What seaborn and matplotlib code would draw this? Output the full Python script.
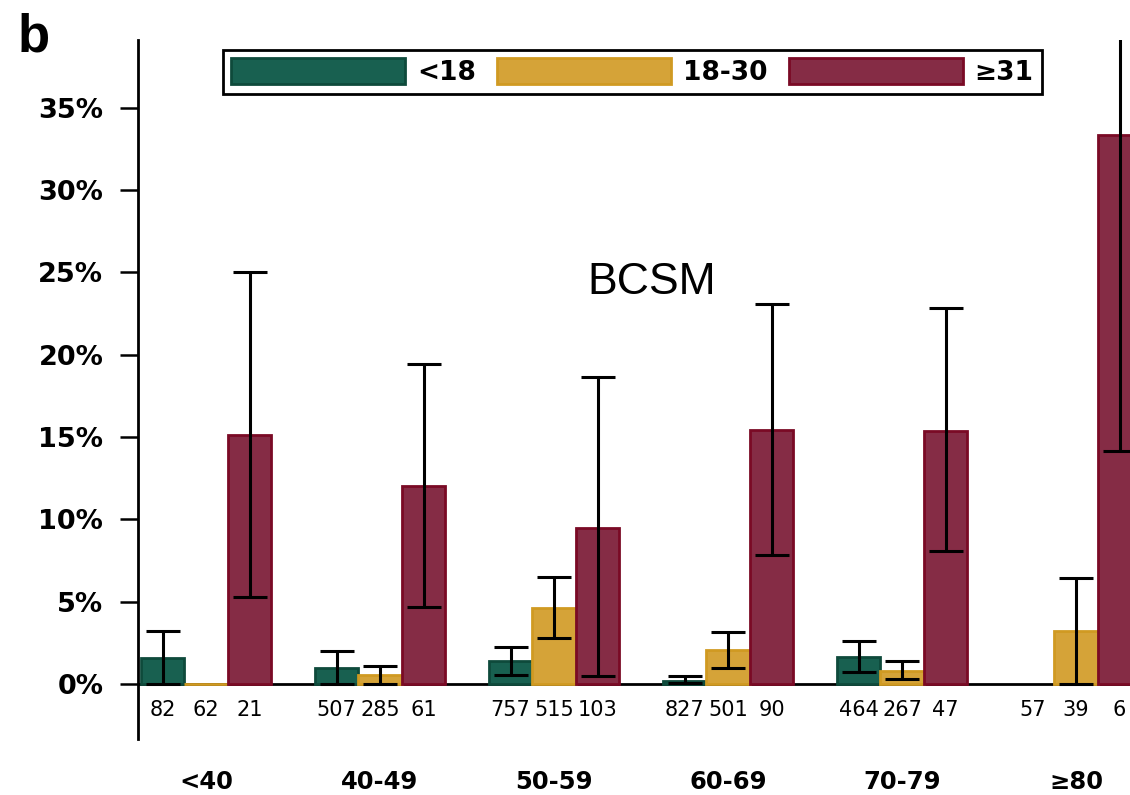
import numpy as np
import pandas as pd
import matplotlib
matplotlib.use('Agg')
import matplotlib.pyplot as plt
import seaborn as sns
from matplotlib.patches import Patch

# age groups and BMI categories
ages = ['<40', '40-49', '50-59', '60-69', '70-79', '≥80']
bmi_levels = ['<18', '18-30', '≥31']

# BCSM percentages (NaN = no bar)
pct_lt18 = [1.6, 1.0, 1.4, 0.2, 1.65, np.nan]
pct_18_30 = [0.0, 0.55, 4.6, 2.05, 0.8, 3.2]
pct_ge31 = [15.1, 12.0, 9.5, 15.45, 15.35, 33.35]

# confidence limits
lo_lt18 = [0.0, 0.0, 0.55, 0.05, 0.7, np.nan]
hi_lt18 = [3.2, 2.0, 2.25, 0.5, 2.6, np.nan]
lo_18_30 = [np.nan, 0.0, 2.8, 0.97, 0.3, 0.0]
hi_18_30 = [np.nan, 1.1, 6.5, 3.15, 1.4, 6.45]
lo_ge31 = [5.3, 4.7, 0.5, 7.85, 8.05, 14.15]
hi_ge31 = [25.0, 19.4, 18.65, 23.1, 22.8, 55.0]

# patients per cell
n_lt18 = [82, 507, 757, 827, 464, 57]
n_18_30 = [62, 285, 515, 501, 267, 39]
n_ge31 = [21, 61, 103, 90, 47, 6]

yticks = [0, 5, 10, 15, 20, 25, 30, 35]
ytick_labels = ['0%', '5%', '10%', '15%', '20%', '25%', '30%', '35%']

face = {'<18': '#186050', '18-30': '#d5a338', '≥31': '#852c45'}
edge = {'<18': '#0e4a3b', '18-30': '#d09a22', '≥31': '#7a0a25'}

pct = {'<18': pct_lt18, '18-30': pct_18_30, '≥31': pct_ge31}
lo = {'<18': lo_lt18, '18-30': lo_18_30, '≥31': lo_ge31}
hi = {'<18': hi_lt18, '18-30': hi_18_30, '≥31': hi_ge31}
counts = {'<18': n_lt18, '18-30': n_18_30, '≥31': n_ge31}

rows = []
for b in bmi_levels:
    for i, a in enumerate(ages):
        if not np.isnan(pct[b][i]):
            rows.append({'age': a, 'bmi': b, 'pct': pct[b][i]})
df = pd.DataFrame(rows)

sns.set_theme(style='white')
plt.rcParams['font.family'] = ['DejaVu Sans']
for k in ['text.color', 'axes.labelcolor', 'xtick.color', 'ytick.color']:
    plt.rcParams[k] = 'black'

fig = plt.figure(figsize=(11.3, 7.95), dpi=100)
ax = fig.add_axes([0.1221, 0.0704, 1 - 0.1221, 0.9497 - 0.0704])

sns.barplot(data=df, x='age', y='pct', hue='bmi', order=ages,
            hue_order=bmi_levels, palette=face, saturation=1, width=0.75,
            errorbar=None, legend=False, linewidth=2, ax=ax, zorder=2)

ax.axhline(0, color='black', lw=2, zorder=1)

# colour edges, add error bars and counts
for b, cont in zip(bmi_levels, ax.containers):
    for p in cont.patches:
        p.set_edgecolor(edge[b])
        xc = p.get_x() + p.get_width() / 2
        gi = int(round(xc))
        l, h, v = lo[b][gi], hi[b][gi], pct[b][gi]
        if not np.isnan(l):
            ax.errorbar(xc, v, yerr=[[v - l], [h - v]], fmt='none',
                        ecolor='black', elinewidth=2.2, capsize=12,
                        capthick=2.2, zorder=3)
    w = cont.patches[0].get_width()
    offs = cont.patches[0].get_x() + w / 2 - round(cont.patches[0].get_x() + w / 2)
    for gi in range(len(ages)):
        ax.text(gi + offs, -1.58, str(counts[b][gi]), ha='center', va='center',
                fontsize=15, color='black', clip_on=False)

ax.set_xlim(-0.391, 5.31)
ax.set_ylim(-3.34, 39.1)
ax.set_yticks(yticks)
ax.set_yticklabels(ytick_labels, fontsize=19.5, fontweight='bold')
ax.set_xticks(range(len(ages)))
ax.set_xticklabels(ages, fontsize=17.5, fontweight='bold')
ax.tick_params(axis='x', length=0, pad=22)
ax.tick_params(axis='y', direction='out', length=13, width=1.8, pad=12,
               left=True, color='black')
ax.set_xlabel('')
ax.set_ylabel('')
for s in ['top', 'right', 'bottom']:
    ax.spines[s].set_visible(False)
ax.spines['left'].set_linewidth(2)
ax.spines['left'].set_color('black')

ax.text(2.56, 24.4, 'BCSM', ha='center', va='center', fontsize=32,
        family=['Liberation Sans', 'DejaVu Sans'])

handles = [Patch(facecolor=face[b], edgecolor=edge[b], linewidth=2, label=b)
           for b in bmi_levels]
leg = fig.legend(handles=handles, loc='upper left',
                 bbox_to_anchor=(223 / 1130, 1 - 50 / 795), ncol=3,
                 frameon=True, fancybox=False, framealpha=1, edgecolor='black',
                 handlelength=6.6, handleheight=1.15, handletextpad=0.45,
                 columnspacing=0.8, borderpad=0.3, borderaxespad=0,
                 prop={'weight': 'bold', 'size': 19})
leg.get_frame().set_linewidth(2)

fig.text(18 / 1130, 1 - 12 / 795, 'b', ha='left', va='top', fontsize=38,
         fontweight='bold', family=['Liberation Sans', 'DejaVu Sans'])

fig.savefig('out.png', dpi=100)
